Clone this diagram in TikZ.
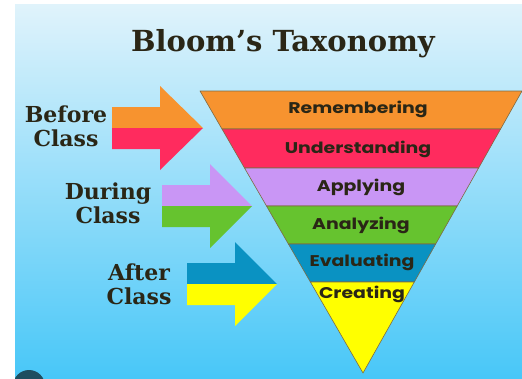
\documentclass[tikz,border=0pt]{standalone}
\usepackage{fontspec}
\setmainfont{DejaVu Serif}
\newfontfamily\bandfont{Poppins}
\definecolor{bgtop}{HTML}{E0F3FB}
\definecolor{bgbot}{HTML}{48C7F8}
\definecolor{corange}{HTML}{F7932F}
\definecolor{cred}{HTML}{FF2B5E}
\definecolor{clav}{HTML}{C996F5}
\definecolor{cgreen}{HTML}{66C32F}
\definecolor{cblue}{HTML}{0A92C2}
\definecolor{cyellow}{HTML}{FFFF00}
\definecolor{cedge}{HTML}{7E6A42}
\definecolor{ctext}{HTML}{2A2616}
\definecolor{cdark}{HTML}{1E4E60}
\newcommand{\bandtxt}[1]{\scalebox{1.22}[1]{#1}}
\tikzset{
  band/.style={draw=cedge,line width=0.6pt,line join=round},
  bandlabel/.style={font=\bandfont\bfseries\fontsize{15.5}{15.5}\selectfont,text=ctext,inner sep=0pt},
  sidelabel/.style={font=\bfseries\fontsize{22}{24}\selectfont,text=ctext,align=center,inner sep=0pt},
}
\begin{document}
\begin{tikzpicture}[x=1pt,y=-1pt]
\useasboundingbox (0,0) rectangle (522,378);
\fill[white] (0,0) rectangle (522,378);
\shade[top color=bgtop,bottom color=bgbot] (15,4) rectangle (522,378);
\begin{scope}
\clip (15,4) rectangle (522,378);
\fill[cdark] (29,386) circle (16);
\end{scope}
% title
\node[font=\bfseries\fontsize{29}{29}\selectfont,text=ctext,inner sep=0pt] (title) at (283,44) {Bloom’s Taxonomy};
% pyramid bands
\filldraw[band,fill=corange] (200,91) -- (522,91) -- (500.6,129) -- (222,129) -- cycle;
\filldraw[band,fill=cred] (222,129) -- (500.6,129) -- (478.6,168) -- (244.5,168) -- cycle;
\filldraw[band,fill=clav] (244.5,168) -- (478.6,168) -- (457.2,206) -- (266.5,206) -- cycle;
\filldraw[band,fill=cgreen] (266.5,206) -- (457.2,206) -- (435.7,244) -- (288.4,244) -- cycle;
\filldraw[band,fill=cblue] (288.4,244) -- (435.7,244) -- (414.3,282) -- (310.4,282) -- cycle;
\filldraw[band,fill=cyellow] (310.4,282) -- (414.3,282) -- (363,373) -- cycle;
\node[bandlabel] (rem) at (358,109) {\bandtxt{Remembering}};
\node[bandlabel] (und) at (358,149) {\bandtxt{Understanding}};
\node[bandlabel] (app) at (361,187) {\bandtxt{Applying}};
\node[bandlabel] (ana) at (361,225) {\bandtxt{Analyzing}};
\node[bandlabel] (eva) at (362,262) {\bandtxt{Evaluating}};
\node[bandlabel] (cre) at (362,294) {\bandtxt{Creating}};
% arrows
\fill[corange] (112,107) -- (160,107) -- (160,86) -- (203,128) -- (112,128) -- cycle;
\fill[cred] (112,128) -- (203,128) -- (160,170) -- (160,149) -- (112,149) -- cycle;
\fill[clav] (162,185) -- (210,185) -- (210,164) -- (252,206) -- (162,206) -- cycle;
\fill[cgreen] (162,206) -- (252,206) -- (210,248) -- (210,227) -- (162,227) -- cycle;
\fill[cblue] (187,263) -- (235,263) -- (235,242) -- (277,284) -- (187,284) -- cycle;
\fill[cyellow] (187,284) -- (277,284) -- (235,326) -- (235,305) -- (187,305) -- cycle;
% side labels
\node[sidelabel] (before) at (66,126) {Before\\Class};
\node[sidelabel] (during) at (108,203) {During\\Class};
\node[sidelabel] (after) at (139,284) {After\\Class};
\end{tikzpicture}
\end{document}
